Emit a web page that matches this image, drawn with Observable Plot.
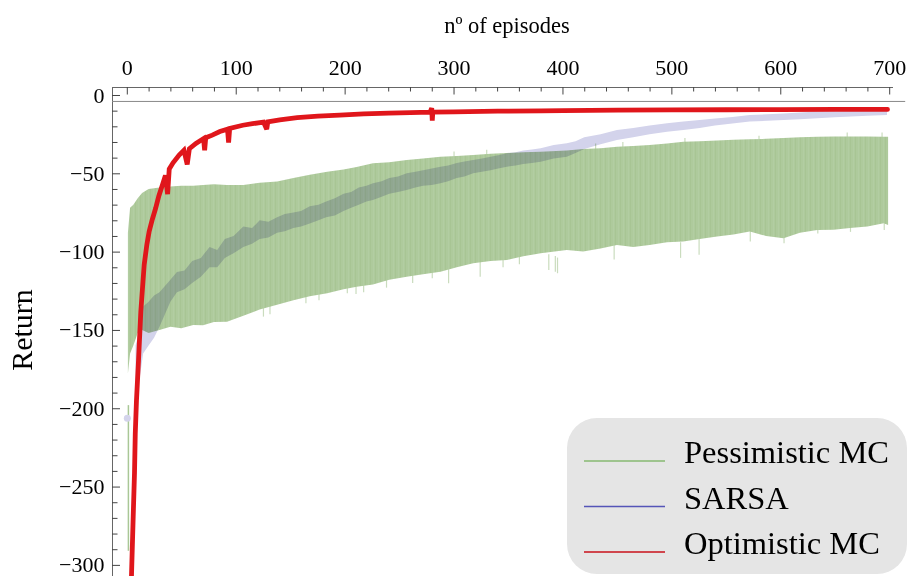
<!DOCTYPE html>
<html>
<head>
<meta charset="utf-8">
<script src="https://cdn.jsdelivr.net/npm/d3@7"></script>
<script src="https://cdn.jsdelivr.net/npm/@observablehq/plot@0.6"></script>
<style>
  html, body { margin: 0; padding: 0; background: #fff; }
  #chart { width: 909px; height: 576px; overflow: hidden; }
  #chart svg { display: block; }
  #defs { position: absolute; width: 0; height: 0; }
</style>
</head>
<body>
<!-- fine vertical hatching used to fill the pessimistic band -->
<svg id="defs" aria-hidden="true">
  <defs>
    <pattern id="pessHatch" patternUnits="userSpaceOnUse" width="5" height="10">
      <rect width="5" height="10" fill="#aeca9c"></rect>
      <rect x="0" width="1" height="10" fill="#a8c594"></rect>
      <rect x="3" width="1" height="10" fill="#b2cda2"></rect>
    </pattern>
  </defs>
</svg>
<div id="chart"></div>
<script>
// ---- Pessimistic MC: per-episode returns oscillate inside a band (upper / lower edge)
const pessEp = [1, 3, 6, 10, 14, 20, 30, 40, 50, 61, 70, 80, 92, 107, 122, 138, 153, 168, 184, 199, 211, 226, 241, 257, 272, 288, 303, 318, 334, 349, 364, 380, 404, 419, 435, 450, 465, 480, 496, 511, 526, 542, 557, 572, 587, 603, 618, 634, 649, 664, 680, 695, 699];
const pessHi = [-88, -72, -70, -66, -62.5, -60, -59, -58.5, -58, -58, -57.5, -57, -57.5, -57.4, -56, -55.3, -53, -51, -49, -47.5, -46, -43.6, -43, -41.5, -40.5, -39.4, -39, -38.3, -37.5, -37, -36.5, -36.2, -35.5, -34.5, -34, -33, -32.5, -32, -31, -29.8, -29.5, -29, -28.5, -28.3, -28, -27.5, -27, -26.6, -26.5, -26.5, -26.5, -26.6, -26.6];
const pessLo = [-178, -165, -160, -152, -150, -152, -150, -148, -149, -146.8, -147, -145, -144.7, -141, -137, -134, -131, -128.5, -126.6, -124, -122.4, -121, -118, -116, -114.5, -112.8, -110, -107.4, -106, -105.3, -103, -101, -99, -100, -98, -95.7, -97, -95.7, -94, -93.6, -92, -90.4, -89, -87.2, -90, -91.5, -88, -86.2, -86, -85, -84, -81.9, -83];
// first episode swing
const pessFirstEp = [1];
const pessFirstHi = [-198];
const pessFirstLo = [-291];
// isolated low / high swings sticking out of the band
const pessLowSpikeEp = [125, 131, 164, 176, 202, 210, 217, 238, 262, 280, 295, 324, 345, 360, 387, 393, 395, 447, 508, 525, 572, 603, 634, 664, 695];
const pessLowSpikeV = [-141.5, -140, -133, -131, -126.6, -127, -126, -123, -120, -117, -120.2, -116, -110, -108, -111.7, -112.8, -113.8, -105, -104, -102, -93.6, -94.7, -88.5, -87.4, -86.2];
const pessHighSpikeEp = [300, 330, 430, 455, 512, 580, 661, 693];
const pessHighSpikeV = [-36, -35, -31, -30, -27.5, -26, -24, -24];

// ---- SARSA: band of per-episode returns
const sarsaEp = [8, 12, 15, 20, 25, 30, 35, 40, 46, 53, 60, 68, 76, 83, 90, 98, 107, 115, 122, 130, 138, 145, 153, 160, 168, 176, 183, 191, 199, 206, 213, 220, 226, 234, 241, 249, 257, 265, 272, 280, 288, 295, 303, 310, 318, 326, 334, 341, 349, 357, 364, 372, 380, 392, 404, 412, 420, 435, 450, 465, 480, 496, 511, 526, 540, 556, 572, 588, 603, 618, 634, 650, 665, 680, 698];
const sarsaHi = [-160, -150, -135, -132, -128, -126, -122, -118, -113, -112, -106, -104, -97, -99, -92, -90, -84, -85, -80, -81, -78, -76, -75, -74, -71, -70, -68, -66, -63, -62, -59, -58, -56.4, -55, -53, -52, -50, -49, -48, -47, -45.8, -45, -43.5, -42.5, -41.5, -40.5, -39.5, -38.5, -37.2, -36.5, -35.5, -34.8, -34, -32, -30.8, -29.5, -27, -25, -22.3, -21, -19.5, -18, -17, -16, -15, -14, -12.8, -12.3, -11.8, -11.2, -10.6, -10.4, -10.3, -10.1, -10];
const sarsaLo = [-186, -180, -165, -160, -155, -148, -140, -132, -126, -124, -120, -116, -110, -110, -104, -101, -97, -95, -92, -91, -88, -87, -85, -84, -82, -80, -78, -77, -74, -72, -70, -68, -67, -65, -63, -62, -60.6, -59, -58, -57.5, -56.4, -55, -53, -52, -50, -49, -48, -47, -45.8, -45, -44, -43.5, -42.6, -40.5, -39.4, -37, -34.5, -31.5, -28.7, -27, -25, -23.5, -22.3, -21, -19.5, -18.2, -17, -16.5, -16, -15.5, -14.9, -14.2, -13.8, -13.2, -12.8];
const sarsaFirstEp = [0];
const sarsaFirstV = [-206];

// ---- Optimistic MC: return per episode
const optEp = [3.5, 3.9, 5.4, 6.6, 7.3, 8.4, 10.3, 12.4, 15.5, 18, 20, 23, 26, 29, 32.3, 35, 37, 38.5, 42, 47.6, 52, 55, 57, 63, 70, 71, 72, 78, 85, 92, 93, 94, 106, 115, 125, 128, 129, 140, 156, 175, 195, 217, 240, 260, 278, 279.5, 280, 280.5, 300, 340, 380, 400, 450, 500, 550, 600, 650, 698];
const optV = [-315, -305, -269, -241, -216, -195, -169, -138, -108, -95, -87, -79, -72, -64, -57, -51, -63, -47, -43, -38, -35, -44, -34, -30.6, -27.5, -35, -27, -25.3, -23, -21.5, -30, -21, -19, -18, -17, -21.5, -16.8, -15.5, -14.2, -13.2, -12.5, -11.7, -11.2, -10.9, -10.6, -8, -16, -10.6, -10.4, -10, -9.8, -9.6, -9.4, -9.2, -9.1, -9, -8.9, -8.9];

// ---- axes
const xTicks = [0, 100, 200, 300, 400, 500, 600, 700];
const xMinor = d3.range(0, 701, 20);
const yTicks = [0, -50, -100, -150, -200, -250, -300];
const yMinor = d3.range(0, -301, -10);
const xDomain = [-13.6, 703.5];
const yDomain = [-307.1, 5.1];
const axisLineV = -3.8;

const legendNames = ["Pessimistic MC", "SARSA", "Optimistic MC"];
const legendColors = ["#86b870", "#5555b8", "#c8101a"];

const W = 909, H = 576;
const mL = 112, mR = 16, mT = 87, mB = 0;
const frameW = W - mL - mR, frameH = H - mT - mB;
const serif = "Liberation Serif, Times New Roman, serif";
const sarsaFill = "#d3d3eb";

const zip = (xs, ...cols) => xs.map((x, i) => ({x, ...Object.fromEntries(cols.map(([k, a]) => [k, a[i]]))}));
const pess = zip(pessEp, ["hi", pessHi], ["lo", pessLo]);
const pessFirst = zip(pessFirstEp, ["hi", pessFirstHi], ["lo", pessFirstLo]);
const lowSpikes = zip(pessLowSpikeEp, ["v", pessLowSpikeV]);
const highSpikes = zip(pessHighSpikeEp, ["v", pessHighSpikeV]);
const sarsa = zip(sarsaEp, ["hi", sarsaHi], ["lo", sarsaLo]);
const sarsaFirst = zip(sarsaFirstEp, ["v", sarsaFirstV]);
const opt = zip(optEp, ["v", optV]);

const minus = d => d < 0 ? "\u2212" + Math.abs(d) : String(d);

const chart = Plot.plot({
  width: W, height: H,
  marginLeft: mL, marginRight: mR, marginTop: mT, marginBottom: mB,
  style: {fontFamily: serif, background: "#fff", color: "#000"},
  x: {domain: xDomain, axis: null},
  y: {domain: yDomain, axis: null},
  marks: [
    // swings protruding from the pessimistic band
    Plot.ruleX(lowSpikes, {x: "x", y1: "v", y2: d => d.v + 10, stroke: "#cadcbe", strokeWidth: 1.2}),
    Plot.ruleX(highSpikes, {x: "x", y1: "v", y2: d => d.v - 10, stroke: "#cadcbe", strokeWidth: 1.2}),
    Plot.ruleX(pessFirst, {x: "x", y1: "lo", y2: "hi", stroke: "#a9c796", strokeWidth: 1.5}),
    Plot.areaY(pess, {x: "x", y1: "lo", y2: "hi", fill: "url(#pessHatch)"}),
    // SARSA band, multiplied over the green band
    Plot.areaY(sarsa, {x: "x", y1: "lo", y2: "hi", fill: sarsaFill, mixBlendMode: "multiply"}),
    Plot.dot(sarsaFirst, {x: "x", y: "v", r: 3.5, fill: sarsaFill}),
    // Optimistic MC
    Plot.line(opt, {x: "x", y: "v", stroke: "#e0161b", strokeWidth: 4.8, strokeLinejoin: "miter", strokeMiterlimit: 3, clip: true}),
    // frame: top and left edges, plus the horizontal axis line
    Plot.ruleY([yDomain[1]], {stroke: "#666", strokeWidth: 1}),
    Plot.ruleX([xDomain[0]], {stroke: "#666", strokeWidth: 1}),
    Plot.ruleY([axisLineV], {x1: xDomain[0], x2: 714.7, stroke: "#888", strokeWidth: 1}),
    // tick marks pointing into the frame
    Plot.tickX(xTicks, {x: d => d, insetBottom: frameH - 7.5, stroke: "#444"}),
    Plot.tickX(xMinor.filter(d => d % 100 !== 0), {x: d => d, insetBottom: frameH - 4.5, stroke: "#444"}),
    Plot.tickY(yTicks, {y: d => d, insetRight: frameW - 8, stroke: "#444"}),
    Plot.tickY(yMinor.filter(d => d % 50 !== 0), {y: d => d, insetRight: frameW - 5.5, stroke: "#444"}),
    // tick labels
    Plot.axisX({anchor: "top", ticks: xTicks, tickSize: 0, tickPadding: 13, fontSize: 22, label: null}),
    Plot.axisY({anchor: "left", ticks: yTicks, tickSize: 0, tickPadding: 8, fontSize: 22, tickFormat: minus, label: null}),
    // axis titles
    Plot.text(["n\u00ba of episodes"], {frameAnchor: "top", textAnchor: "middle", dx: 4, dy: -70, fontSize: 22.5, text: d => d}),
    Plot.text(["Return"], {frameAnchor: "left", textAnchor: "middle", dx: -90, dy: -2, rotate: -90, fontSize: 30, text: d => d})
  ]
});

document.getElementById("chart").append(chart);

// legend box in the lower right corner
const svg = d3.select(chart);
const lg = svg.append("g").attr("font-family", serif).attr("text-anchor", "start");
lg.append("rect").attr("x", 567).attr("y", 418).attr("width", 340).attr("height", 156)
  .attr("rx", 30).attr("ry", 30).attr("fill", "#e5e5e5");
legendNames.forEach((name, i) => {
  const cy = 461 + i * 45.5;
  lg.append("line").attr("x1", 584).attr("x2", 665).attr("y1", cy).attr("y2", cy)
    .attr("stroke", legendColors[i]).attr("stroke-width", 1.3);
  lg.append("text").attr("x", 684).attr("y", cy + 2).attr("font-size", 32.5).attr("fill", "#000").text(name);
});
</script>
</body>
</html>
